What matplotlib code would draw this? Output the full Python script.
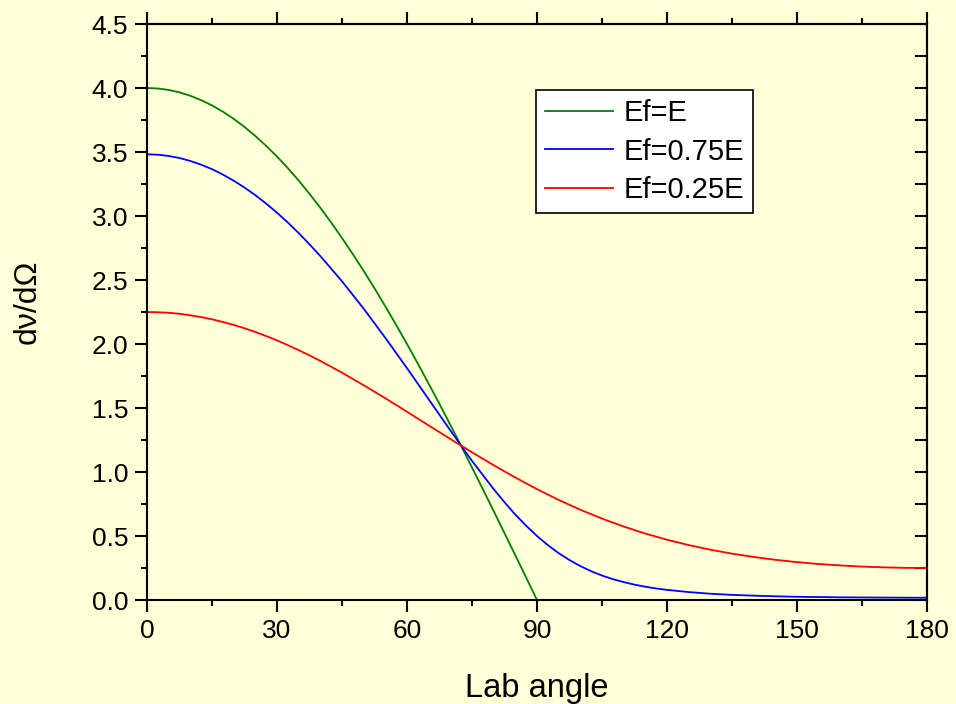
import matplotlib
matplotlib.use("Agg")
import matplotlib.pyplot as plt
from matplotlib.ticker import MultipleLocator

plt.rcParams['font.family'] = ['Liberation Sans', 'DejaVu Sans']

# ---- data ----
angle_green = [0, 2.5, 5, 7.5, 10, 12.5, 15, 17.5, 20, 22.5, 25, 27.5, 30, 32.5, 35,
               37.5, 40, 42.5, 45, 47.5, 50, 52.5, 55, 57.5, 60, 62.5, 65, 67.5, 70,
               72.5, 75, 77.5, 80, 82.5, 85, 87.5, 90]
ef_e = [4.000, 3.996, 3.985, 3.966, 3.939, 3.905, 3.864, 3.815, 3.759, 3.696, 3.625,
        3.548, 3.464, 3.374, 3.277, 3.173, 3.064, 2.949, 2.828, 2.702, 2.571, 2.435,
        2.294, 2.149, 2.000, 1.847, 1.690, 1.531, 1.368, 1.203, 1.035, 0.866, 0.695,
        0.522, 0.349, 0.175, 0.000]

angle_blue = [0, 2.5, 5, 7.5, 10, 12.5, 15, 17.5, 20, 22.5, 25, 27.5, 30, 32.5, 35,
              37.5, 40, 45, 50, 55, 60, 65, 70, 75, 80, 82.5, 85, 87.5, 90, 92.5, 95,
              97.5, 100, 102.5, 105, 107.5, 110, 112.5, 115, 117.5, 120, 125, 130, 135,
              140, 145, 150, 155, 160, 165, 170, 175, 180]
ef_075 = [3.482, 3.479, 3.469, 3.453, 3.430, 3.401, 3.366, 3.324, 3.276, 3.222, 3.163,
          3.097, 3.026, 2.949, 2.867, 2.779, 2.687, 2.490, 2.276, 2.048, 1.811, 1.568,
          1.325, 1.087, 0.866, 0.764, 0.667, 0.580, 0.500, 0.429, 0.366, 0.312, 0.265,
          0.225, 0.191, 0.163, 0.140, 0.120, 0.104, 0.090, 0.079, 0.062, 0.049, 0.040,
          0.034, 0.029, 0.025, 0.023, 0.021, 0.020, 0.019, 0.018, 0.018]

angle_red = [0, 2.5, 5, 7.5, 10, 12.5, 15, 17.5, 20, 22.5, 25, 27.5, 30, 32.5, 35,
             37.5, 40, 45, 50, 55, 60, 65, 70, 75, 80, 85, 90, 95, 100, 105, 110, 115,
             120, 125, 130, 135, 140, 145, 150, 155, 160, 165, 170, 175, 180]
ef_025 = [2.250, 2.248, 2.244, 2.236, 2.224, 2.210, 2.193, 2.172, 2.149, 2.123, 2.094,
          2.062, 2.028, 1.991, 1.952, 1.911, 1.868, 1.776, 1.678, 1.576, 1.471, 1.364,
          1.258, 1.154, 1.053, 0.957, 0.866, 0.782, 0.705, 0.636, 0.574, 0.519, 0.471,
          0.429, 0.393, 0.362, 0.336, 0.314, 0.296, 0.281, 0.270, 0.261, 0.255, 0.251,
          0.250]

labels = ['Ef=E', 'Ef=0.75E', 'Ef=0.25E']
colors = ['#008000', '#0000FF', '#FF0000']

x_ticks = [0, 30, 60, 90, 120, 150, 180]
y_ticks = [0.0, 0.5, 1.0, 1.5, 2.0, 2.5, 3.0, 3.5, 4.0, 4.5]

bg = '#FFFFD8'

fig = plt.figure(figsize=(9.56, 7.04), dpi=100, facecolor=bg)
ax = fig.add_axes([147/956, 104/704, 780/956, 576/704], facecolor=bg)

ax.plot(angle_green, ef_e, color=colors[0], lw=1.3, label=labels[0])
ax.plot(angle_blue, ef_075, color=colors[1], lw=1.3, label=labels[1])
ax.plot(angle_red, ef_025, color=colors[2], lw=1.3, label=labels[2])

ax.set_xlim(0, 180)
ax.set_ylim(0, 4.5)
ax.set_xticks(x_ticks)
ax.set_yticks(y_ticks)
ax.set_xticklabels([str(v) for v in x_ticks])
ax.set_yticklabels([f"{v:.1f}" for v in y_ticks])
ax.xaxis.set_minor_locator(MultipleLocator(15))
ax.yaxis.set_minor_locator(MultipleLocator(0.25))

for s in ax.spines.values():
    s.set_linewidth(1.5)

ax.tick_params(axis='both', which='major', labelsize=19, width=1.5, length=8.6,
               direction='out', pad=5)
ax.tick_params(axis='both', which='minor', width=1.5, length=4.3, direction='out')
ax.tick_params(axis='x', which='both', top=False, bottom=True)
ax.tick_params(axis='y', which='both', left=True, right=False)

secx = ax.secondary_xaxis('top')
secx.set_xticks(x_ticks)
secx.set_xticklabels([])
secx.xaxis.set_minor_locator(MultipleLocator(15))
secx.tick_params(which='major', length=8.6, width=1.5, direction='out')
secx.tick_params(which='minor', length=4.3, width=1.5, direction='out')
secx.spines['top'].set_linewidth(1.5)

secy = ax.secondary_yaxis('right')
secy.set_yticks(y_ticks)
secy.set_yticklabels([])
secy.yaxis.set_minor_locator(MultipleLocator(0.25))
secy.tick_params(which='both', length=8.6, width=1.5, direction='in')
secy.spines['right'].set_linewidth(1.5)

ax.set_xlabel('Lab angle', fontsize=23.5, labelpad=22)
ax.set_ylabel('d\u03bd/d\u03a9', fontsize=23)
ax.yaxis.set_label_coords(-0.134, 0.517)

leg = ax.legend(loc='upper left', bbox_to_anchor=(389/780, 510/576), borderaxespad=0,
                fontsize=21, frameon=True, fancybox=False, shadow=False,
                handlelength=2.35, handletextpad=0.35, borderpad=0.3,
                labelspacing=0.37)
leg.get_frame().set_edgecolor('black')
leg.get_frame().set_linewidth(1.2)
leg.get_frame().set_facecolor('white')
leg.get_frame().set_alpha(1)

fig.savefig('out.png', dpi=100, facecolor=bg)
